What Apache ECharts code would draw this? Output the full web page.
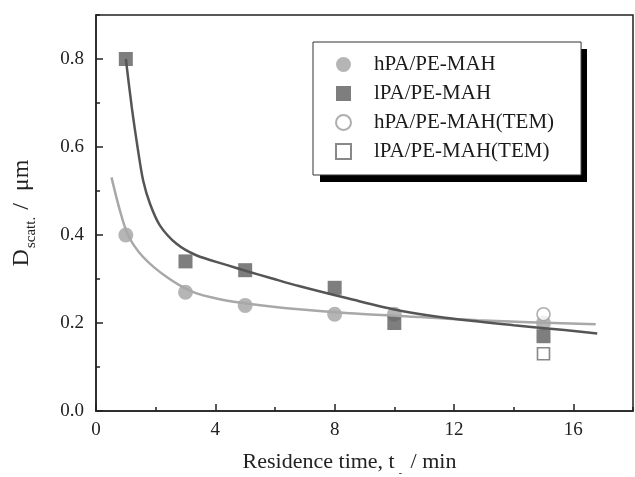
<!DOCTYPE html>
<html>
<head>
<meta charset="utf-8">
<script src="https://cdn.jsdelivr.net/npm/echarts@6/dist/echarts.min.js"></script>
<style>
html,body{margin:0;padding:0;background:#fff;}
#c{width:635px;height:477px;}
</style>
</head>
<body>
<div id="c"></div>
<script>
// ---- data ----
var xTicksMajor = [0, 4, 8, 12, 16];
var yTicksMajor = ["0.0", "0.2", "0.4", "0.6", "0.8"];
var hPA = [[1, 0.40], [3, 0.27], [5, 0.24], [8, 0.22], [10, 0.22], [15, 0.20]];
var lPA = [[1, 0.80], [3, 0.34], [5, 0.32], [8, 0.28], [10, 0.20], [15, 0.17]];
var hPA_TEM = [[15, 0.22]];
var lPA_TEM = [[15, 0.13]];
var hPA_fit = [[0.52, 0.531], [0.80, 0.456], [1.08, 0.399], [1.58, 0.350], [2.36, 0.305], [3.2, 0.272],
  [4.15, 0.254], [5.3, 0.242], [6.8, 0.231], [8.5, 0.222], [10.2, 0.216], [12.8, 0.206], [16.75, 0.197]];
var lPA_fit = [[1.0, 0.80], [1.2, 0.69], [1.41, 0.592], [1.58, 0.524], [1.81, 0.471], [2.14, 0.422],
  [2.70, 0.380], [3.36, 0.354], [4.37, 0.332], [5.15, 0.316], [5.82, 0.303], [6.8, 0.284], [8.5, 0.255],
  [10.2, 0.228], [11.7, 0.212], [14.0, 0.195], [15.7, 0.184], [16.8, 0.176]];
var names = ["hPA/PE-MAH", "lPA/PE-MAH", "hPA/PE-MAH(TEM)", "lPA/PE-MAH(TEM)"];

var FONT = "Liberation Serif";
var chart = echarts.init(document.getElementById('c'), null, {renderer: 'canvas'});
var axisColor = '#222';

chart.setOption({
  animation: false,
  backgroundColor: '#fff',
  textStyle: {fontFamily: FONT, color: axisColor},
  grid: {left: 96, top: 15, right: 2, bottom: 66, containLabel: false, outerBoundsMode: 'none',
    show: true, borderColor: axisColor, borderWidth: 1.5, backgroundColor: 'transparent'},
  graphic: [{
    type: 'rect', left: 320, top: 49, z: 3, silent: true,
    shape: {width: 267, height: 133},
    style: {fill: '#000'}
  }],
  legend: {
    data: names,
    orient: 'vertical',
    left: 313, top: 42, z: 5,
    padding: [12, 27, 13, 22],
    itemWidth: 15, itemHeight: 15, itemGap: 8,
    backgroundColor: '#fff',
    borderColor: '#333', borderWidth: 1,
    textStyle: {fontFamily: FONT, fontSize: 21, color: '#1a1a1a', padding: [0, 0, 0, 18]}
  },
  xAxis: [{
    type: 'value', min: 0, max: 18, interval: 4,
    axisLine: {show: true, lineStyle: {color: axisColor, width: 1.5}},
    axisTick: {show: true, inside: true, length: 7, lineStyle: {color: axisColor, width: 1.5}},
    splitLine: {show: false},
    axisLabel: {fontFamily: FONT, fontSize: 19, color: axisColor, margin: 10, showMaxLabel: false,
      formatter: function (v) { return xTicksMajor.indexOf(v) >= 0 ? String(v) : ''; }},
    name: '{a|Residence time, t}{s|-}{a| / min}',
    nameLocation: 'middle', nameGap: 40,
    nameTextStyle: {padding: [0, 30, 0, 0], rich: {
      a: {fontFamily: FONT, fontSize: 22, color: axisColor, lineHeight: 24, verticalAlign: 'top'},
      s: {fontFamily: FONT, fontSize: 10, color: axisColor, lineHeight: 10, verticalAlign: 'top', padding: [17, 3, 0, 4]}
    }}
  }, {
    type: 'value', min: 0, max: 18, interval: 2, position: 'bottom', offset: 0,
    axisLine: {show: false},
    axisTick: {show: true, inside: true, length: 4, lineStyle: {color: axisColor, width: 1.5}},
    axisLabel: {show: false}, splitLine: {show: false}
  }],
  yAxis: [{
    type: 'value', min: 0, max: 0.9, interval: 0.2,
    axisLine: {show: true, lineStyle: {color: axisColor, width: 1.5}},
    axisTick: {show: true, inside: true, length: 7, lineStyle: {color: axisColor, width: 1.5}},
    splitLine: {show: false},
    axisLabel: {fontFamily: FONT, fontSize: 19, color: axisColor, margin: 12, showMaxLabel: false,
      formatter: function (v) { var s = v.toFixed(1); return yTicksMajor.indexOf(s) >= 0 ? s : ''; }},
    name: '{d|D}{s|scatt.}{n| /  μm}',
    nameLocation: 'middle', nameGap: 60,
    nameTextStyle: {rich: {
      d: {fontFamily: FONT, fontSize: 24, color: axisColor, lineHeight: 26, verticalAlign: 'top'},
      s: {fontFamily: FONT, fontSize: 15, color: axisColor, lineHeight: 15, verticalAlign: 'top', padding: [14, 1, 0, 1]},
      n: {fontFamily: FONT, fontSize: 24, color: axisColor, lineHeight: 26, verticalAlign: 'top'}
    }}
  }, {
    type: 'value', min: 0, max: 0.9, interval: 0.1, position: 'left', offset: 0,
    axisLine: {show: false},
    axisTick: {show: true, inside: true, length: 4, lineStyle: {color: axisColor, width: 1.5}},
    axisLabel: {show: false}, splitLine: {show: false}
  }],
  series: [
    {name: names[0], type: 'scatter', data: hPA, symbol: 'circle', symbolSize: 15,
      itemStyle: {color: '#a2a2a2'}, z: 3},
    {name: names[1], type: 'scatter', data: lPA, symbol: 'rect', symbolSize: 14,
      itemStyle: {color: '#5e5e5e'}, z: 4},
    {name: names[2], type: 'scatter', data: hPA_TEM, symbol: 'circle', symbolSize: 13,
      itemStyle: {color: '#fff', borderColor: '#9a9a9a', borderWidth: 1.6}, z: 5},
    {name: names[3], type: 'scatter', data: lPA_TEM, symbol: 'rect', symbolSize: 12,
      itemStyle: {color: '#fff', borderColor: '#6a6a6a', borderWidth: 1.6}, z: 5},
    {name: 'hfit', type: 'line', data: hPA_fit, showSymbol: false, smooth: 0.3,
      lineStyle: {color: '#a8a8a8', width: 2.5}, z: 6, silent: true},
    {name: 'lfit', type: 'line', data: lPA_fit, showSymbol: false, smooth: 0.3,
      lineStyle: {color: '#555', width: 2.5}, z: 7, silent: true}
  ]
});
</script>
</body>
</html>
